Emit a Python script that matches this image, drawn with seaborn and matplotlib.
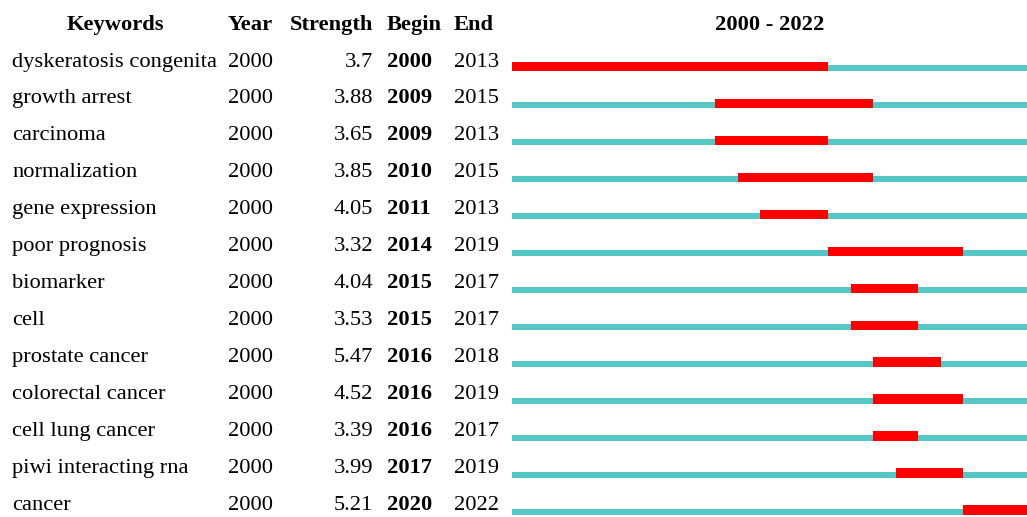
import matplotlib
matplotlib.use("Agg")
import matplotlib.pyplot as plt
import matplotlib.transforms as mtransforms
import seaborn as sns
import numpy as np

keywords = ["dyskeratosis congenita", "growth arrest", "carcinoma", "normalization",
            "gene expression", "poor prognosis", "biomarker", "cell", "prostate cancer",
            "colorectal cancer", "cell lung cancer", "piwi interacting rna", "cancer"]
years = [2000] * 13
strength = ["3.7", "3.88", "3.65", "3.85", "4.05", "3.32", "4.04", "3.53", "5.47",
            "4.52", "3.39", "3.99", "5.21"]
begin = [2000, 2009, 2009, 2010, 2011, 2014, 2015, 2015, 2016, 2016, 2016, 2017, 2020]
end = [2013, 2015, 2013, 2015, 2013, 2019, 2017, 2017, 2018, 2019, 2017, 2019, 2022]
period_start, period_end = 2000, 2022

sns.set_theme(style="white")
plt.rcParams["font.family"] = ["Liberation Serif", "DejaVu Serif"]
plt.rcParams["text.color"] = "black"

W, H = 1027, 517
fig = plt.figure(figsize=(W / 100, H / 100), dpi=100)
ax = fig.add_axes([512 / W, 0, 1 - 512 / W, 1])

n = len(keywords)
rows = np.arange(n)
row_px = 36.95
first_px = 68.3
ax.set_ylim((H - first_px) / row_px, -first_px / row_px)
px_per_year = 22.57
ax.set_xlim(period_start, period_start + (W - 512) / px_per_year)

teal_h = 6.3 / row_px
red_h = 9.6 / row_px
teal = "#56C7C7"
red = "#FF0000"

ax.barh(rows, period_end + 1 - period_start, left=period_start, height=teal_h,
        color=teal, edgecolor="none")
b = np.array(begin)
e = np.array(end)
ax.barh(rows + teal_h / 2 - red_h / 2, e + 1 - b, left=b, height=red_h,
        color=red, edgecolor="none")
ax.axis("off")

trans = mtransforms.blended_transform_factory(fig.transFigure, ax.transData)
fs = 16.2

def fx(px):
    return px / W

def put(px, y, s, ha, bold=False):
    ax.text(fx(px), y, s, transform=trans, ha=ha, va="baseline", fontsize=fs,
            fontweight="bold" if bold else "normal", color="black", clip_on=False)

base_off = -1.8 / row_px
for i in range(n):
    y = i + base_off
    put(12, y, keywords[i], "left")
    put(228, y, str(years[i]), "left")
    put(373, y, strength[i], "right")
    put(387, y, str(begin[i]), "left", bold=True)
    put(454, y, str(end[i]), "left")

hy = (29.5 - first_px) / row_px
put(115, hy, "Keywords", "center", bold=True)
put(228, hy, "Year", "left", bold=True)
put(373, hy, "Strength", "right", bold=True)
put(387, hy, "Begin", "left", bold=True)
put(454, hy, "End", "left", bold=True)
put(770, hy, f"{period_start} - {period_end}", "center", bold=True)

fig.savefig("out.png", dpi=100)
